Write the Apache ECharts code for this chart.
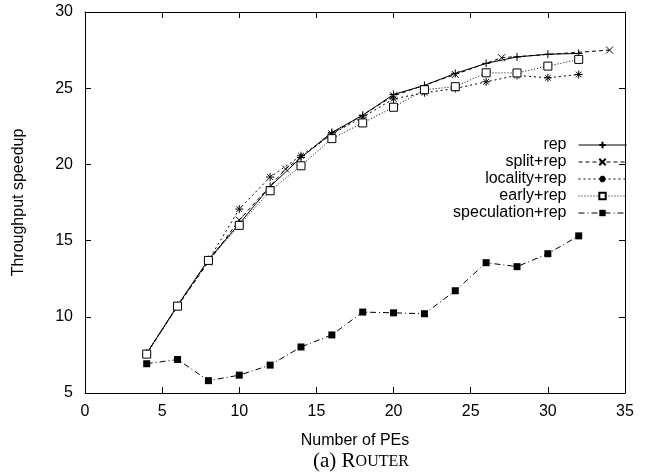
<!DOCTYPE html>
<html>
<head>
<meta charset="utf-8">
<script src="https://cdn.jsdelivr.net/npm/echarts@6/dist/echarts.min.js"></script>
<style>
    html, body { margin: 0; padding: 0; background: #fff; }
    #main { width: 653px; height: 475px; }
</style>
</head>
<body>
<div id="main"></div>
<script>
// x ticks / y ticks
var xTicks = [0, 5, 10, 15, 20, 25, 30, 35];
var yTicks = [5, 10, 15, 20, 25, 30];

// series (x = number of PEs)
var repX = [4, 6, 8, 10, 12, 14, 16, 18, 20, 22, 24, 26, 28, 30, 32];
var repY = [7.6, 10.75, 13.75, 16.1, 18.55, 20.45, 22.1, 23.22, 24.59, 25.18, 25.97, 26.63, 27.05, 27.23, 27.28];

var splitX = [4, 6, 8, 10, 13, 16, 20, 24, 27, 34];
var splitY = [7.6, 10.7, 13.6, 16.35, 19.7, 22.0, 24.5, 25.9, 27.0, 27.5];

var localityX = [4, 6, 8, 10, 12, 14, 16, 18, 20, 22, 24, 26, 28, 30, 32];
var localityY = [7.6, 10.7, 13.7, 17.07, 19.17, 20.57, 22.0, 23.1, 24.3, 24.7, 24.98, 25.42, 25.84, 25.68, 25.9];

var earlyX = [4, 6, 8, 10, 12, 14, 16, 18, 20, 22, 24, 26, 28, 30, 32];
var earlyY = [7.55, 10.7, 13.7, 16.0, 18.27, 19.91, 21.69, 22.72, 23.75, 24.9, 25.1, 26.01, 26.0, 26.45, 26.89];

var specX = [4, 6, 8, 10, 12, 14, 16, 18, 20, 22, 24, 26, 28, 30, 32];
var specY = [6.92, 7.2, 5.81, 6.17, 6.83, 8.02, 8.81, 10.31, 10.26, 10.2, 11.71, 13.55, 13.29, 14.14, 15.31];

var names = ['rep', 'split+rep', 'locality+rep', 'early+rep', 'speculation+rep'];

function pairs(xs, ys) {
    return xs.map(function (x, i) { return [x, ys[i]]; });
}

var sans = 'Liberation Sans, Arial, sans-serif';
var serif = 'Liberation Serif, Times New Roman, serif';

var strokeMark = {color: 'transparent', borderColor: '#000', borderWidth: 1};

function axisCommon(extra) {
    var a = {
        type: 'value',
        axisLine: {show: true, onZero: false, lineStyle: {color: '#000', width: 1}},
        axisTick: {show: true, inside: true, length: 6, lineStyle: {color: '#000'}},
        splitLine: {show: false},
        axisLabel: {color: '#000', fontSize: 16, fontFamily: sans, margin: 11}
    };
    for (var k in extra) a[k] = extra[k];
    return a;
}

var chart = echarts.init(document.getElementById('main'));

var option = {
    backgroundColor: '#fff',
    animation: false,
    title: {
        text: '{a|(a) R}{b|OUTER}',
        left: 356,
        top: 446,
        textAlign: 'center',
        textStyle: {
            fontWeight: 'normal',
            rich: {
                a: {fontFamily: serif, fontSize: 21, fontWeight: 'normal', color: '#000'},
                b: {fontFamily: serif, fontSize: 16, fontWeight: 'normal', color: '#000'}
            }
        }
    },
    grid: {left: 85, right: 28, top: 12, bottom: 82},
    legend: {
        orient: 'vertical',
        right: 21,
        top: 132,
        align: 'right',
        itemWidth: 48,
        itemHeight: 8,
        itemGap: 1,
        lineStyle: {width: 1},
        textStyle: {fontSize: 16, fontFamily: sans, color: '#000', lineHeight: 14, padding: [0, 7, 0, 0]},
        data: names
    },
    xAxis: [
        axisCommon({
            position: 'bottom', min: 0, max: 35, interval: 5,
            name: 'Number of PEs', nameLocation: 'middle', nameGap: 40,
            nameTextStyle: {color: '#000', fontSize: 16, fontFamily: sans}
        }),
        axisCommon({
            position: 'top', min: 0, max: 35, interval: 5,
            axisLabel: {show: false}
        })
    ],
    yAxis: [
        axisCommon({
            position: 'left', min: 5, max: 30, interval: 5,
            axisLabel: {color: '#000', fontSize: 16, fontFamily: sans, margin: 12},
            name: 'Throughput speedup', nameLocation: 'middle', nameGap: 58,
            nameTextStyle: {color: '#000', fontSize: 16, fontFamily: sans}
        }),
        axisCommon({
            position: 'right', min: 5, max: 30, interval: 5,
            axisLabel: {show: false}
        })
    ],
    series: [
        {
            name: 'rep', type: 'line', data: pairs(repX, repY),
            symbol: 'path://M0,5L10,5M5,0L5,10', symbolSize: 8,
            itemStyle: strokeMark,
            lineStyle: {color: '#000', width: 1, type: 'solid'}
        },
        {
            name: 'split+rep', type: 'line', data: pairs(splitX, splitY),
            symbol: 'path://M0,0L10,10M10,0L0,10', symbolSize: 7,
            itemStyle: strokeMark,
            lineStyle: {color: '#000', width: 1, type: [4, 3]}
        },
        {
            name: 'locality+rep', type: 'line', data: pairs(localityX, localityY),
            symbol: 'path://M0,5L10,5M5,0L5,10M1.5,1.5L8.5,8.5M8.5,1.5L1.5,8.5', symbolSize: 8,
            itemStyle: strokeMark,
            lineStyle: {color: '#000', width: 1, type: [2, 3]}
        },
        {
            name: 'early+rep', type: 'line', data: pairs(earlyX, earlyY),
            symbol: 'rect', symbolSize: 8,
            itemStyle: {color: '#fff', borderColor: '#000', borderWidth: 1},
            lineStyle: {color: '#000', width: 1, type: [1, 2]}
        },
        {
            name: 'speculation+rep', type: 'line', data: pairs(specX, specY),
            symbol: 'rect', symbolSize: 7,
            itemStyle: {color: '#000'},
            lineStyle: {color: '#000', width: 1, type: [6, 3, 1, 3]}
        }
    ]
};

chart.setOption(option);
</script>
</body>
</html>
